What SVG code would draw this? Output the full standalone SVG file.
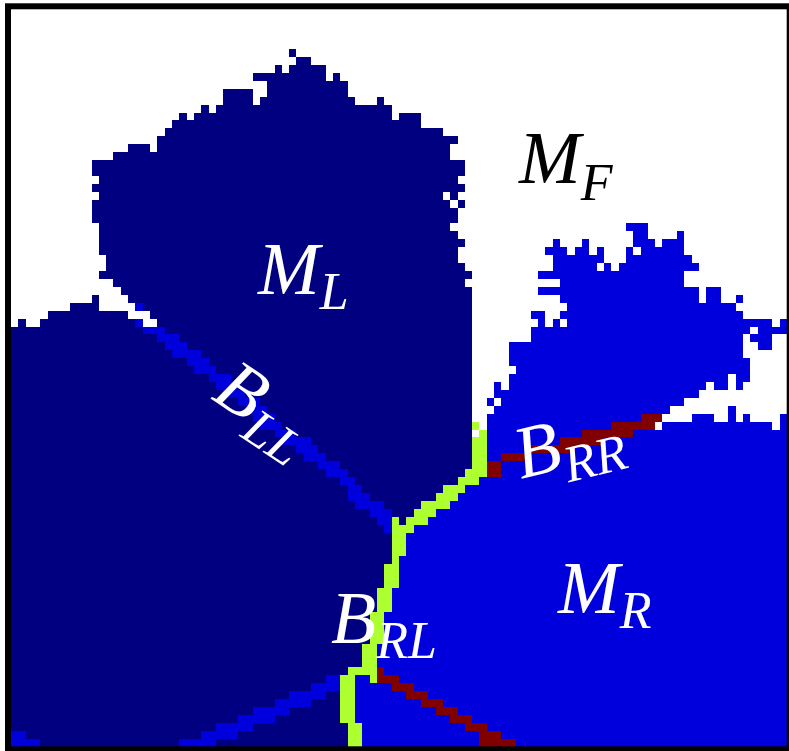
<svg xmlns="http://www.w3.org/2000/svg" width="789" height="751" viewBox="0 0 789 751">
<style>
.nv{fill:#000080}.bl{fill:#0000dd}.wh{fill:#ffffff}.gr{fill:#adff2f}.rd{fill:#800000}
.lbl{font-family:"Liberation Serif","DejaVu Serif",serif;font-style:italic;font-size:74px}
.sub{font-size:52px}
</style>
<rect x="0" y="0" width="789" height="751" fill="#ffffff"/>
<g id="map" transform="translate(11,9.5) scale(7.32,7.925)" shape-rendering="crispEdges">
<rect id="navy-base" class="nv" x="0" y="0" width="106" height="93"/>
<path id="white-free" class="wh" d="M0 0h106v5h-106z
M0 5h38v1h-38z M39 5h67v1h-67z
M0 6h39v1h-39z M41 6h65v1h-65z
M0 7h36v1h-36z M37 7h1v1h-1z M43 7h63v1h-63z
M0 8h33v1h-33z M43 8h1v1h-1z M45 8h61v1h-61z
M0 9h35v1h-35z M46 9h60v1h-60z
M0 10h29v1h-29z M33 10h2v1h-2z M46 10h60v1h-60z
M0 11h29v1h-29z M33 11h1v1h-1z M47 11h3v1h-3z M51 11h55v1h-55z
M0 12h26v1h-26z M27 12h1v1h-1z M52 12h54v1h-54z
M0 13h23v1h-23z M24 13h1v1h-1z M52 13h1v1h-1z M56 13h50v1h-50z
M0 14h22v1h-22z M56 14h50v1h-50z
M0 15h21v1h-21z M59 15h47v1h-47z
M0 16h20v1h-20z M61 16h45v1h-45z
M0 17h16v1h-16z M19 17h1v1h-1z M60 17h46v1h-46z
M0 18h14v1h-14z M60 18h46v1h-46z
M0 19h11v2h-11z M62 19h44v2h-44z
M0 21h12v1h-12z M61 21h45v1h-45z
M0 22h11v1h-11z M62 22h44v1h-44z
M0 23h12v1h-12z M59 23h1v1h-1z M61 23h45v1h-45z
M0 24h11v1h-11z M60 24h1v1h-1z M62 24h44v1h-44z
M0 25h11v2h-11z M61 25h45v2h-45z
M0 27h12v1h-12z M60 27h46v1h-46z
M0 28h12v1h-12z M61 28h45v1h-45z
M0 29h12v1h-12z M62 29h44v1h-44z
M0 30h12v1h-12z M61 30h45v1h-45z
M0 31h13v1h-13z M61 31h45v1h-45z
M0 32h13v1h-13z M62 32h44v1h-44z
M0 33h12v1h-12z M63 33h43v1h-43z
M0 34h14v1h-14z M62 34h44v1h-44z
M0 35h15v1h-15z M63 35h43v1h-43z
M0 36h11v1h-11z M12 36h4v1h-4z M63 36h43v1h-43z
M0 37h8v1h-8z M12 37h5v1h-5z M63 37h43v1h-43z
M0 38h5v1h-5z M16 38h3v1h-3z M63 38h43v1h-43z
M0 39h1v1h-1z M2 39h2v1h-2z M18 39h2v1h-2z M63 39h43v1h-43z
M63 40h43v13h-43z M63 53h1v1h-1z"/>
<path id="blue-MR" class="bl" d="M84 27h3v1h-3z
M85 28h2v1h-2z M91 28h1v1h-1z
M74 29h1v1h-1z M78 29h1v1h-1z M85 29h3v1h-3z M89 29h3v1h-3z
M73 30h3v1h-3z M77 30h2v1h-2z M80 30h1v1h-1z M84 30h1v1h-1z M86 30h6v1h-6z
M74 31h7v1h-7z M84 31h9v1h-9z
M74 32h6v1h-6z M81 32h1v1h-1z M83 32h11v1h-11z
M72 33h20v1h-20z
M75 34h17v1h-17z
M72 35h22v1h-22z M95 35h2v1h-2z
M75 36h19v1h-19z M95 36h2v1h-2z M99 36h1v1h-1z
M76 37h23v1h-23z
M71 38h2v1h-2z M75 38h25v1h-25z
M72 39h1v1h-1z M74 39h1v1h-1z M76 39h28v1h-28z M105 39h1v1h-1z
M71 40h30v1h-30z M102 40h4v1h-4z
M71 41h29v1h-29z M101 41h3v1h-3z
M68 42h32v1h-32z M102 42h2v1h-2z
M68 43h32v1h-32z
M68 44h33v1h-33z
M69 45h32v1h-32z
M68 46h30v1h-30z M99 46h2v1h-2z
M66 47h1v1h-1z M68 47h27v1h-27z M96 47h2v1h-2z M99 47h1v1h-1z
M66 48h28v1h-28z
M65 49h1v1h-1z M67 49h25v1h-25z
M66 50h24v1h-24z M98 50h1v1h-1z
M65 51h24v1h-24z M93 51h3v1h-3z M98 51h1v1h-1z M100 51h1v1h-1z M105 51h1v1h-1z
M65 52h23v1h-23z M89 52h15v1h-15z M105 52h1v1h-1z
M106 53V93H46V90H45V84H46V83H48V80H49V76H50V73H51V70H52V65H54V64H55V63H56V62H58V61H59V60H61V59H62V58H63V54H64V53Z"/>
<path id="boundary-LL" class="bl" d="M17 37h1v1h-1z M17 39h1v1h-1z M18 40h3v1h-3z M20 41h3v1h-3z M21 42h3v1h-3z M22 43h4v1h-4z M24 44h3v1h-3z M25 45h3v1h-3z M27 46h3v1h-3z M28 47h3v1h-3z M29 48h3v1h-3z M31 49h3v1h-3z M32 50h3v1h-3z M33 51h3v1h-3z M34 52h3v1h-3z M36 53h3v1h-3z M37 54h4v1h-4z M39 55h3v1h-3z M40 56h3v1h-3z M42 57h3v1h-3z M43 58h3v1h-3z M45 59h2v1h-2z M46 60h2v1h-2z M46 61h3v1h-3z M47 62h4v1h-4z M49 63h3v1h-3z M50 64h2v1h-2z M51 65h1v1h-1z"/>
<path id="boundary-low-left" class="bl" d="M43 84h2v1h-2z M41 85h4v1h-4z M38 86h5v1h-5z M36 87h5v1h-5z M33 88h5v1h-5z M31 89h5v1h-5z M28 90h5v1h-5z M26 91h5v1h-5z M23 92h5v1h-5z M0 91h2v2h-2z M2 92h2v1h-2z"/>
<path id="boundary-RL" class="gr" d="M63 52h1v1h-1z M64 53h1v1h-1z M63 54h2v4h-2z M62 58h3v1h-3z M61 59h3v1h-3z M59 60h3v1h-3z M58 61h3v1h-3z M56 62h4v1h-4z M55 63h3v1h-3z M52 64h1v1h-1z M54 64h3v1h-3z M52 65h3v1h-3z M52 66h2v3h-2z M52 69h1v1h-1z M51 70h2v3h-2z M50 73h2v3h-2z M49 76h2v4h-2z M48 80h2v3h-2z M46 83h4v1h-4z M45 84h2v1h-2z M49 84h1v1h-1z M45 85h2v5h-2z M46 90h2v3h-2z"/>
<path id="boundary-RR" class="rd" d="M86 51h3v1h-3z M82 52h6v1h-6z M78 53h7v1h-7z M75 54h6v1h-6z M71 55h6v1h-6z M67 56h4v1h-4z M65 57h2v2h-2z"/>
<path id="boundary-RR-low" class="rd" d="M50 83h1v1h-1z M50 84h3v1h-3z M52 85h3v1h-3z M54 86h3v1h-3z M56 87h3v1h-3z M58 88h3v1h-3z M60 89h3v1h-3z M62 90h3v1h-3z M64 91h3v1h-3z M64 92h5v1h-5z"/>
</g>
<rect id="frame" x="8" y="6.3" width="781.7" height="743" fill="none" stroke="#000000" stroke-width="6"/>
<g id="labels">
<text id="label-MF" class="lbl" x="519" y="183" fill="#000000">M<tspan class="sub" dy="17">F</tspan></text>
<text id="label-ML" class="lbl" x="258" y="294" fill="#ffffff">M<tspan class="sub" dy="15">L</tspan></text>
<text id="label-MR" class="lbl" x="558" y="613" fill="#ffffff">M<tspan class="sub" dy="15">R</tspan></text>
<text id="label-BRL" class="lbl" x="331" y="643" fill="#ffffff">B<tspan class="sub" dy="15">RL</tspan></text>
<text id="label-BRR" class="lbl" x="521" y="479" fill="#ffffff" transform="rotate(-14 521 479)">B<tspan class="sub" dy="15">RR</tspan></text>
<text id="label-BLL" class="lbl" x="210" y="398" fill="#ffffff" transform="rotate(34 210 398)">B<tspan class="sub" dy="15">LL</tspan></text>
</g>
</svg>
